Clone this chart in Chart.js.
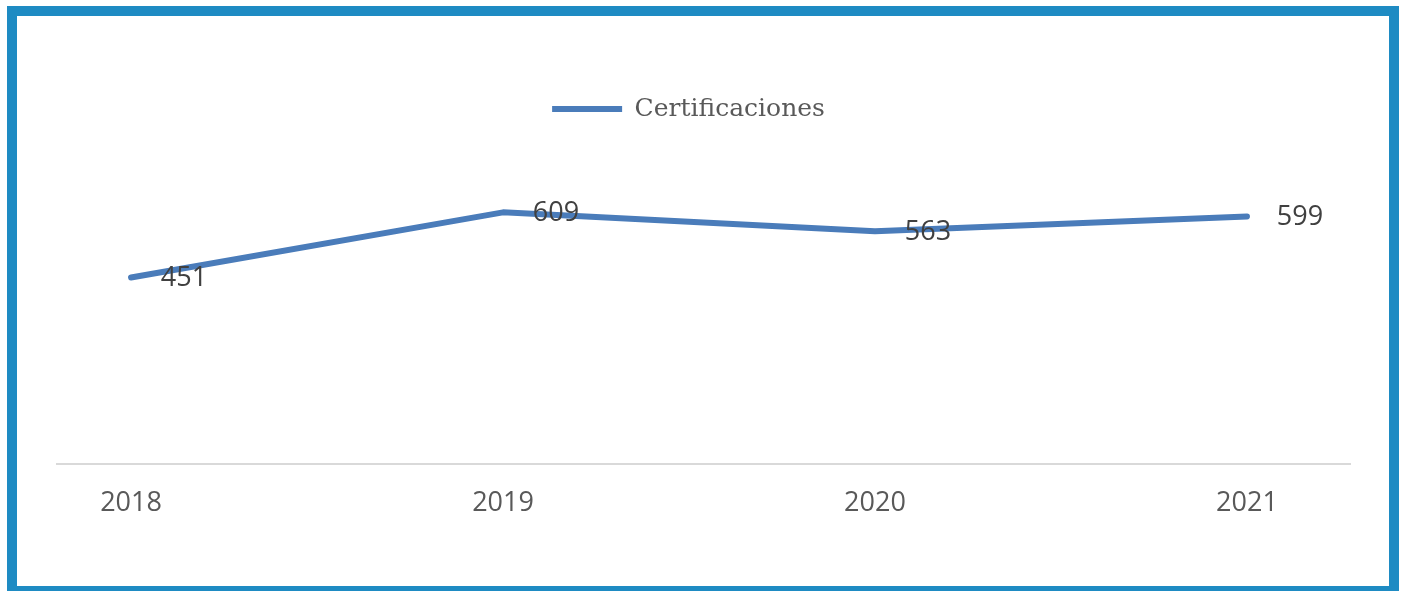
<!DOCTYPE html>
<html>
<head>
<meta charset="utf-8">
<script src="https://cdn.jsdelivr.net/npm/chart.js@4/dist/chart.umd.min.js"></script>
<style>
  html, body { margin: 0; padding: 0; background: #fff; overflow: hidden; }
  #wrap { position: relative; width: 1404px; height: 591px; }
  #frame {
    position: absolute; left: 7px; top: 6px; width: 1392px; height: 590px;
    box-sizing: border-box; border: 10px solid #1e8bc3; pointer-events: none;
  }
  canvas { display: block; }
</style>
</head>
<body>
<div id="wrap">
  <canvas id="chart" width="1404" height="591"></canvas>
  <div id="frame"></div>
</div>
<script>
// años y certificaciones emitidas
const years = ['2018', '2019', '2020', '2021'];
const certificaciones = [451, 609, 563, 599];

const lineColor = '#4a7cba';

// etiquetas de valor a la derecha de cada punto
const valueLabels = {
  id: 'valueLabels',
  afterDatasetsDraw(chart) {
    const { ctx } = chart;
    const meta = chart.getDatasetMeta(0);
    ctx.save();
    ctx.font = '27px "Open Sans"';
    ctx.fillStyle = '#404040';
    ctx.textAlign = 'center';
    ctx.textBaseline = 'middle';
    meta.data.forEach((pt, i) => {
      ctx.fillText(String(certificaciones[i]), pt.x + 53, pt.y + 1);
    });
    ctx.restore();
  }
};

// corre la leyenda un poco a la izquierda
const legendShift = {
  id: 'legendShift',
  afterLayout(chart) {
    if (chart.legend) {
      chart.legend.left -= 15;
      chart.legend.right -= 15;
    }
  }
};

new Chart(document.getElementById('chart'), {
  type: 'line',
  data: {
    datasets: [{
      label: 'Certificaciones',
      data: certificaciones.map((v, i) => ({ x: i, y: v })),
      borderColor: lineColor,
      backgroundColor: lineColor,
      borderWidth: 6,
      borderCapStyle: 'round',
      borderJoinStyle: 'round',
      pointRadius: 0,
      tension: 0,
    }]
  },
  options: {
    responsive: false,
    animation: false,
    layout: { padding: { top: 43, left: 57, right: 54, bottom: 47 } },
    plugins: {
      legend: {
        position: 'top',
        labels: {
          usePointStyle: true,
          pointStyle: 'line',
          pointStyleWidth: 70,
          padding: 53.5,
          color: '#595959',
          font: { family: '"DejaVu Serif"', size: 25 },
        }
      },
      tooltip: { enabled: false },
    },
    scales: {
      x: {
        type: 'linear',
        min: -0.199,
        max: 3.277,
        afterBuildTicks: (scale) => {
          scale.ticks = years.map((_, i) => ({ value: i }));
        },
        grid: { display: false, drawTicks: false },
        border: { display: true, color: '#d9d9d9', width: 2 },
        ticks: {
          padding: 24,
          color: '#595959',
          font: { family: '"Open Sans"', size: 27 },
          callback: (v) => years[v],
        }
      },
      y: {
        display: false,
        min: 0,
        max: 805,
      }
    }
  },
  plugins: [valueLabels, legendShift]
});
</script>
</body>
</html>
